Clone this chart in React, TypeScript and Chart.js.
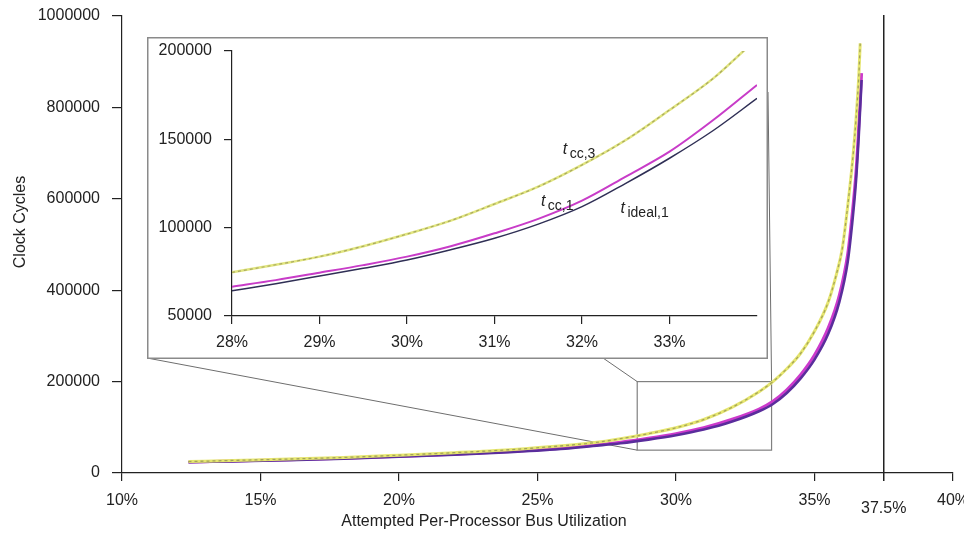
import React, { useEffect, useRef } from 'react';
import { Chart, registerables } from 'chart.js';

Chart.register(...registerables);

const FONT = "'Liberation Sans', Arial, Helvetica, sans-serif";
const INK = '#222222';

// ---- Main plot: attempted per-processor bus utilization (%) vs clock cycles ----
const mainUtilCc3 = [12.4, 14, 16, 18, 20, 22, 24, 26, 27, 28, 29, 30, 31, 32, 33, 33.5, 34, 34.5, 35, 35.5, 35.8, 36, 36.2, 36.4, 36.5, 36.6, 36.65];
const mainCc3 = [25000, 27500, 30500, 34000, 39000, 44500, 51000, 60000, 66000, 75000, 86000, 99000, 117000, 143000, 178000, 200000, 228000, 262000, 310000, 375000, 437000, 490000, 585000, 700000, 775000, 870000, 940000];

const mainUtil = [12.4, 14, 16, 18, 20, 22, 24, 26, 27, 28, 29, 30, 31, 32, 33, 33.5, 34, 34.5, 35, 35.5, 35.9, 36.2, 36.35, 36.5, 36.6, 36.7];
const mainCc1 = [24000, 26000, 29000, 32500, 36500, 41000, 47000, 55000, 61000, 67500, 76000, 86000, 99000, 117000, 140000, 157000, 182000, 215000, 258000, 318000, 390000, 480000, 560000, 660000, 760000, 875000];
const mainIdeal = [23500, 25500, 28000, 31500, 35500, 40000, 45500, 53000, 59000, 65000, 73000, 82500, 95000, 112000, 135000, 151000, 175000, 207000, 248000, 305000, 375000, 462000, 540000, 640000, 740000, 860000];

const mainXTicks = [10, 15, 20, 25, 30, 35, 40];
const mainYTicks = [0, 200000, 400000, 600000, 800000, 1000000];
const saturationUtil = 37.5;

// Region of the main plot that the inset magnifies
const zoomUtil = [28.6, 33.45];
const zoomCycles = [50000, 200000];

// ---- Inset: close-up of 28%–34% ----
const insetUtilCc3 = [28, 28.5, 29, 29.5, 30, 30.5, 31, 31.5, 32, 32.5, 33, 33.5, 33.86];
const insetCc3 = [74700, 79000, 83600, 89500, 96400, 104000, 113400, 123200, 135500, 149600, 166600, 184500, 200600];

const insetUtil = [28, 28.5, 29, 29.5, 30, 30.5, 31, 31.5, 32, 32.5, 33, 33.5, 34];
const insetCc1 = [66600, 70300, 74500, 78800, 83600, 89500, 96800, 105000, 115300, 128900, 143000, 160900, 180800];
const insetIdeal = [64300, 68300, 72600, 77000, 81700, 87500, 94000, 102000, 111900, 125100, 139300, 155000, 173200];

const insetXTicks = [28, 29, 30, 31, 32, 33];
const insetYTicks = [50000, 100000, 150000, 200000];

// Curve names written next to the inset curves (anchored in data space)
const curveLabels = [
  { sub: 'cc,3', util: 31.78, cycles: 141700 },
  { sub: 'cc,1', util: 31.53, cycles: 112300 },
  { sub: 'ideal,1', util: 32.44, cycles: 108500 },
];

// Inset frame on the page
const INSET = { left: 147, top: 37, width: 621, height: 322 };

const pts = (xs: number[], ys: number[]) => xs.map((x, i) => ({ x, y: ys[i] }));

function lineSet(data: { x: number; y: number }[], color: string, width: number, order: number, dash: number[] = []) {
  return {
    data,
    borderColor: color,
    borderWidth: width,
    borderDash: dash,
    pointRadius: 0,
    fill: false,
    cubicInterpolationMode: 'monotone' as const,
    order,
  };
}

function axisStyle(tickVals: number[], fmt: (v: number) => string, tickLen: number, pad: number) {
  return {
    type: 'linear' as const,
    afterBuildTicks: (s: any) => {
      s.ticks = tickVals.map((value) => ({ value }));
    },
    ticks: {
      callback: (v: any) => fmt(Number(v)),
      font: { family: FONT, size: 16 },
      color: INK,
      padding: pad,
      maxRotation: 0,
      autoSkip: false,
    },
    grid: { drawOnChartArea: false, drawTicks: true, tickLength: tickLen, color: INK, lineWidth: 1.2 },
    border: { display: true, color: INK, width: 1.2 },
  };
}

const mainDecor = {
  id: 'mainDecor',
  beforeDatasetsDraw(chart: any) {
    const { ctx } = chart;
    const xs = chart.scales.x;
    const ys = chart.scales.y;
    const bx0 = xs.getPixelForValue(zoomUtil[0]);
    const bx1 = xs.getPixelForValue(zoomUtil[1]);
    const by0 = ys.getPixelForValue(zoomCycles[1]);
    const by1 = ys.getPixelForValue(zoomCycles[0]);
    ctx.save();
    ctx.strokeStyle = '#808080';
    ctx.lineWidth = 1.2;
    ctx.strokeRect(bx0, by0, bx1 - bx0, by1 - by0);
    ctx.strokeStyle = '#6e6e6e';
    ctx.lineWidth = 1;
    ctx.beginPath();
    ctx.moveTo(INSET.left, INSET.top + INSET.height - 1);
    ctx.lineTo(bx0, by1);
    ctx.moveTo(603, INSET.top + INSET.height - 1);
    ctx.lineTo(bx0, by0);
    ctx.moveTo(INSET.left + INSET.width, 92);
    ctx.lineTo(bx1, by0);
    ctx.stroke();
    ctx.restore();
  },
  afterDraw(chart: any) {
    const { ctx, chartArea } = chart;
    const xs = chart.scales.x;
    const sx = xs.getPixelForValue(saturationUtil);
    ctx.save();
    ctx.strokeStyle = INK;
    ctx.lineWidth = 1.5;
    ctx.beginPath();
    ctx.moveTo(sx, chartArea.top - 1);
    ctx.lineTo(sx, chartArea.bottom + 8);
    ctx.stroke();
    ctx.fillStyle = INK;
    ctx.font = `16px ${FONT}`;
    ctx.textAlign = 'center';
    ctx.textBaseline = 'middle';
    ctx.fillText(`${saturationUtil}%`, sx, 509);
    ctx.fillText('Attempted Per-Processor Bus Utilization', 484, 522);
    ctx.translate(21, 222);
    ctx.rotate(-Math.PI / 2);
    ctx.fillText('Clock Cycles', 0, 0);
    ctx.restore();
  },
};

const insetDecor = {
  id: 'insetDecor',
  beforeDraw(chart: any) {
    const { ctx, width, height } = chart;
    ctx.save();
    ctx.fillStyle = '#ffffff';
    ctx.fillRect(0, 0, width, height);
    ctx.restore();
  },
  afterDraw(chart: any) {
    const { ctx, width, height } = chart;
    const xs = chart.scales.x;
    const ys = chart.scales.y;
    ctx.save();
    ctx.strokeStyle = '#8a8a8a';
    ctx.lineWidth = 1.5;
    ctx.strokeRect(0.75, 0.75, width - 1.5, height - 1.5);
    ctx.fillStyle = INK;
    ctx.textBaseline = 'alphabetic';
    ctx.textAlign = 'left';
    for (const lab of curveLabels) {
      const x = xs.getPixelForValue(lab.util);
      const y = ys.getPixelForValue(lab.cycles);
      ctx.font = `italic 16px ${FONT}`;
      ctx.fillText('t', x, y);
      const tw = ctx.measureText('t').width;
      ctx.font = `14px ${FONT}`;
      ctx.fillText(lab.sub, x + tw + 2.5, y + 4);
    }
    ctx.restore();
  },
};

export default function App() {
  const mainRef = useRef<HTMLCanvasElement>(null);
  const insetRef = useRef<HTMLCanvasElement>(null);

  useEffect(() => {
    if (!mainRef.current || !insetRef.current) return;

    const mainX: any = axisStyle(mainXTicks, (v) => `${v}%`, 8, 10);
    mainX.min = 10;
    mainX.max = 40;
    mainX.afterFit = (s: any) => {
      s.height = 62;
      s.paddingLeft = 0;
      s.paddingRight = 0;
    };
    const mainY: any = axisStyle(mainYTicks, (v) => String(v), 10, 12);
    mainY.min = 0;
    mainY.max = 1000000;
    mainY.afterFit = (s: any) => {
      s.width = 122;
      s.paddingTop = 0;
      s.paddingBottom = 0;
    };

    const main = new Chart(mainRef.current, {
      type: 'line',
      data: {
        datasets: [
          lineSet(pts(mainUtilCc3, mainCc3), '#a4a45a', 1.3, 0, [3, 3]),
          lineSet(pts(mainUtilCc3, mainCc3), '#e6e670', 3, 1),
          lineSet(pts(mainUtil, mainIdeal), '#5a2d9c', 2.6, 2),
          lineSet(pts(mainUtil, mainCc1), '#cc3acc', 3, 3),
        ],
      },
      options: {
        animation: false,
        responsive: false,
        devicePixelRatio: 1,
        layout: { padding: { top: 16, right: 11, left: 0, bottom: 0 } },
        plugins: { legend: { display: false }, tooltip: { enabled: false } },
        scales: { x: mainX, y: mainY },
      },
      plugins: [mainDecor],
    });

    const inX: any = axisStyle(insetXTicks, (v) => `${v}%`, 8, 9);
    inX.min = 28;
    inX.max = 34;
    inX.afterFit = (s: any) => {
      s.height = 43;
      s.paddingLeft = 0;
      s.paddingRight = 0;
    };
    const inY: any = axisStyle(insetYTicks, (v) => String(v), 8, 12);
    inY.min = 50000;
    inY.max = 200000;
    inY.afterFit = (s: any) => {
      s.width = 85;
      s.paddingTop = 0;
      s.paddingBottom = 0;
    };

    const inset = new Chart(insetRef.current, {
      type: 'line',
      data: {
        datasets: [
          lineSet(pts(insetUtilCc3, insetCc3), '#a8a860', 1.2, 0, [3, 3]),
          lineSet(pts(insetUtilCc3, insetCc3), '#e2e680', 2.5, 1),
          lineSet(pts(insetUtil, insetIdeal), '#2f2f55', 1.5, 2),
          lineSet(pts(insetUtil, insetCc1), '#c83cc8', 2, 3),
        ],
      },
      options: {
        animation: false,
        responsive: false,
        devicePixelRatio: 1,
        layout: { padding: { top: 14, right: 11, left: 0, bottom: 0 } },
        plugins: { legend: { display: false }, tooltip: { enabled: false } },
        scales: { x: inX, y: inY },
      },
      plugins: [insetDecor],
    });

    return () => {
      main.destroy();
      inset.destroy();
    };
  }, []);

  return (
    <div style={{ position: 'absolute', left: 0, top: 0, width: 964, height: 535, background: '#fff' }}>
      <canvas ref={mainRef} width={964} height={535} style={{ position: 'absolute', left: 0, top: 0, width: 964, height: 535 }} />
      <canvas
        ref={insetRef}
        width={INSET.width}
        height={INSET.height}
        style={{ position: 'absolute', left: INSET.left, top: INSET.top, width: INSET.width, height: INSET.height }}
      />
    </div>
  );
}
